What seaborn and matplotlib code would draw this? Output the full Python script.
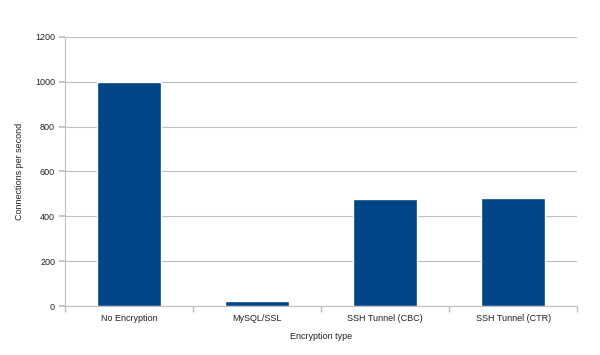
import matplotlib
matplotlib.use("Agg")
import matplotlib.pyplot as plt
import seaborn as sns
import pandas as pd
from matplotlib.ticker import FixedLocator

categories = ["No Encryption", "MySQL/SSL", "SSH Tunnel (CBC)", "SSH Tunnel (CTR)"]
values = [1000, 23, 477, 481]
yticks = [0, 200, 400, 600, 800, 1000, 1200]

sns.set_theme(style="white")
plt.rcParams['font.family'] = ['Liberation Sans', 'DejaVu Sans']

df = pd.DataFrame({"Encryption type": categories, "Connections per second": values})

fig = plt.figure(figsize=(6, 3.55), dpi=100)
ax = fig.add_axes([0.108, 0.138, 0.854, 0.758])

sns.barplot(data=df, x="Encryption type", y="Connections per second",
            color="#004586", saturation=1, width=0.5, ax=ax, zorder=3)

ax.set_ylim(0, 1200)
ax.set_xlim(-0.5, len(categories) - 0.5)
ax.set_yticks(yticks)
ax.yaxis.grid(True, color="#c0c0c0", linewidth=0.8, zorder=0)
ax.xaxis.grid(False)

ax.xaxis.set_minor_locator(FixedLocator([i - 0.5 for i in range(len(categories) + 1)]))
ax.tick_params(axis="x", which="major", length=0, labelsize=6.5, colors="#222222", pad=6)
ax.tick_params(axis="x", which="minor", length=4, color="#c0c0c0", direction="out", bottom=True)
ax.tick_params(axis="y", which="major", length=4, color="#c0c0c0", labelsize=6.5,
               labelcolor="#222222", left=True, pad=3)

for s in ["top", "right"]:
    ax.spines[s].set_visible(False)
for s in ["left", "bottom"]:
    ax.spines[s].set_color("#c0c0c0")
    ax.spines[s].set_linewidth(0.8)

ax.set_xlabel("Encryption type", fontsize=6.5, color="#222222", labelpad=6)
ax.set_ylabel("Connections per second", fontsize=6.5, color="#222222", labelpad=8)

fig.savefig("out.png", dpi=100)
